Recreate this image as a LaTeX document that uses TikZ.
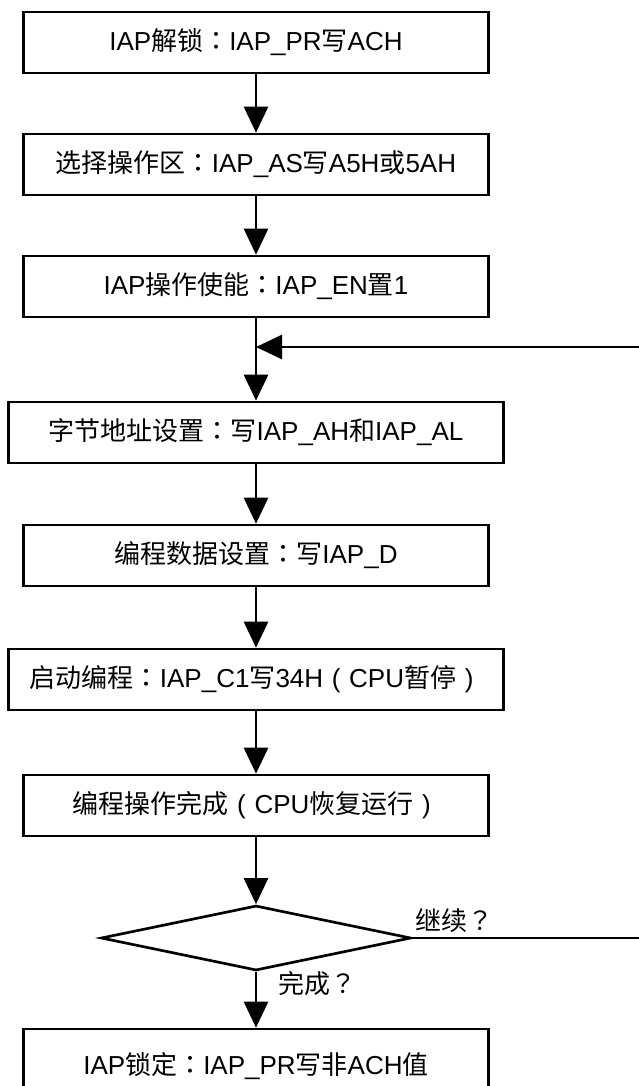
\documentclass[tikz,border=0pt]{standalone}
\usepackage{fontspec}
\setmainfont{Liberation Sans}
\newfontfamily\cjk{Noto Sans CJK SC}
\newfontfamily\cjkp{Noto Sans CJK TC}
\newcommand\zh[1]{{\cjk #1}}
\newcommand\zp[1]{{\cjkp #1}}
\newcommand\fwp[1]{\makebox[1em][c]{#1}}
\usetikzlibrary{arrows.meta,shapes.geometric}
\begin{document}
\begin{tikzpicture}[x=0.75pt,y=-0.75pt,line width=2pt,
  txt/.style={font=\fontsize{19.5}{23}\selectfont},
  box/.style={draw,rectangle,inner sep=0pt,minimum height=45.75pt,minimum width=348.75pt,txt},
  wide/.style={minimum width=371pt},
  dec/.style={draw,diamond,inner sep=0pt,minimum width=232.5pt,minimum height=48.75pt},
  lbl/.style={inner sep=0pt,anchor=west,txt},
  arr/.style={-{Triangle[length=19.5pt,width=18pt]}}]
\useasboundingbox (0,0) rectangle (639,1086);
\node[box] (b1) at (256,42.5) {IAP\zh{解锁}\zp{：}IAP\_PR\zh{写}ACH};
\node[box] (b2) at (256,164.5) {\zh{选择操作区}\zp{：}IAP\_AS\zh{写}A5H\zh{或}5AH};
\node[box] (b3) at (256,286.5) {IAP\zh{操作使能}\zp{：}IAP\_EN\zh{置}1};
\node[box,wide] (b4) at (256,432.5) {\zh{字节地址设置}\zp{：}\zh{写}IAP\_AH\zh{和}IAP\_AL};
\node[box] (b5) at (256,555.5) {\zh{编程数据设置}\zp{：}\zh{写}IAP\_D};
\node[box,wide] (b6) at (256,679.5) {\zh{启动编程}\zp{：}IAP\_C1\zh{写}34H\fwp{(}CPU\zh{暂停}\fwp{)}};
\node[box] (b7) at (256,805.5) {\zh{编程操作完成}\fwp{(}CPU\zh{恢复运行}\fwp{)}};
\node[dec] (d) at (256,938) {};
\node[box,minimum height=55.5pt] (b8) at (256,1066) {IAP\zh{锁定}\zp{：}IAP\_PR\zh{写非}ACH\zh{值}};
\node[lbl] (l1) at (414,921) {\zh{继续}\zp{？}};
\node[lbl] (l2) at (277,984) {\zh{完成}\zp{？}};
\coordinate (j) at (256,347);
\coordinate (r1) at (645,938);
\coordinate (r2) at (645,347);
\draw[arr] (b1) -- (b2);
\draw[arr] (b2) -- (b3);
\draw[arr] (b3) -- (b4);
\draw[arr] (b4) -- (b5);
\draw[arr] (b5) -- (b6);
\draw[arr] (b6) -- (b7);
\draw[arr] (b7) -- (d);
\draw[arr] (d) -- (b8);
\draw[arr] (d.east) -- (r1) -- (r2) -- (j);
\end{tikzpicture}
\end{document}
